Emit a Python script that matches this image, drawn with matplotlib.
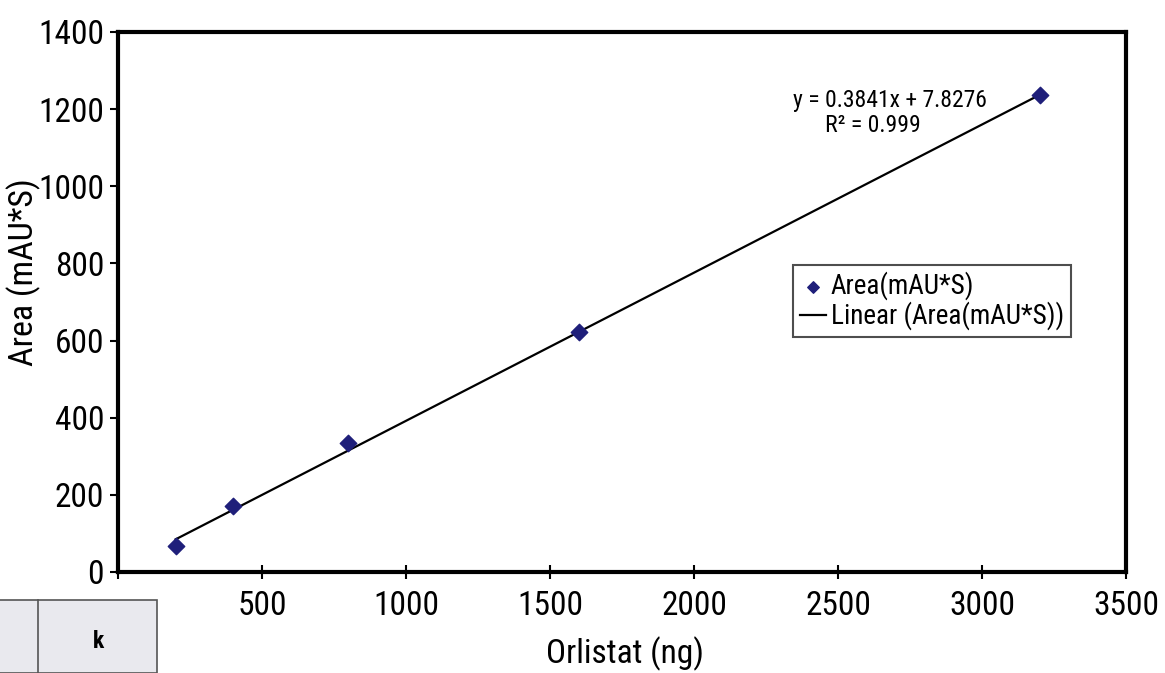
import matplotlib
matplotlib.use("Agg")
import matplotlib.pyplot as plt
import numpy as np
from matplotlib.patches import Rectangle
from matplotlib.ticker import FuncFormatter

# Data
orlistat_ng = [200, 400, 800, 1600, 3200]
area_mau_s = [67, 171, 334, 622, 1237]
fit_slope = 0.3841
fit_intercept = 7.8276
r_squared = 0.999
x_ticks = [0, 500, 1000, 1500, 2000, 2500, 3000, 3500]
y_ticks = [0, 200, 400, 600, 800, 1000, 1200, 1400]

plt.rcParams['font.family'] = ['Roboto Condensed', 'Liberation Sans Narrow', 'DejaVu Sans']
plt.rcParams['font.stretch'] = 'condensed'

fig = plt.figure(figsize=(11.65, 6.73), dpi=100)
W, H = 1165, 673
ax = fig.add_axes([118 / W, 1 - 572 / H, (1126 - 118) / W, (572 - 32) / H])

fit_x = np.array([min(orlistat_ng), max(orlistat_ng)])
fit_y = fit_slope * fit_x + fit_intercept
ax.plot(fit_x, fit_y, color='black', lw=1.6, label='Linear (Area(mAU*S))', zorder=2)
ax.scatter(orlistat_ng, area_mau_s, marker='D', s=70, color='#1f1f7a', zorder=3,
           label='Area(mAU*S)')

ax.set_xlim(0, 3500)
ax.set_ylim(0, 1400)
ax.set_xticks(x_ticks)
ax.set_yticks(y_ticks)
ax.xaxis.set_major_formatter(FuncFormatter(lambda v, p: '' if v == 0 else f'{v:g}'))
ax.tick_params(axis='x', direction='inout', length=10, width=1.5, labelsize=24, pad=8)
ax.tick_params(axis='y', direction='out', length=6, width=1.5, labelsize=24, pad=4)
for s in ax.spines.values():
    s.set_linewidth(3)
ax.set_xlabel('Orlistat (ng)', fontsize=24)
ax.set_ylabel('Area (mAU*S)', fontsize=24.5)
ax.yaxis.set_label_coords(-(118 - 24) / (1126 - 118), (572 - 272) / 540)
ax.xaxis.set_label_coords((625 - 118) / 1008, -(654 - 572) / 540)
ax.xaxis.label.set_va('center')
ax.yaxis.label.set_va('center')

fig.text(793 / W, 1 - 100 / H, f'y = {fit_slope}x + {fit_intercept}',
         fontsize=17, ha='left', va='center')
fig.text(873 / W, 1 - 126 / H, f'R² = {r_squared}',
         fontsize=17, ha='center', va='center')

handles, labels = ax.get_legend_handles_labels()
leg = ax.legend(handles[::-1], labels[::-1], loc='center left',
                bbox_to_anchor=((793 - 118) / (1126 - 118), (572 - 301) / 540),
                fontsize=19.5, frameon=True, fancybox=False, edgecolor='#222222',
                handlelength=0.95, handletextpad=0.2, borderpad=0.25, labelspacing=0.05,
                borderaxespad=0, scatterpoints=1, markerscale=0.7)
leg.get_frame().set_linewidth(1.5)

# cropped table fragment at bottom-left (drawn above the axes)
tbl = Rectangle((-0.01, 0), 157 / W + 0.01, (673 - 600) / H,
                transform=fig.transFigure, facecolor='#e9e9ee',
                edgecolor='#555555', lw=1.2, zorder=10)
fig.add_artist(tbl)
fig.add_artist(plt.Line2D([38 / W, 38 / W], [0, (673 - 600) / H],
                          transform=fig.transFigure, color='#555555', lw=1.2, zorder=11))
fig.text(98 / W, 1 - 642 / H, 'k', fontsize=17, fontweight='bold', ha='center',
         va='center', zorder=12)

fig.savefig('out.png', dpi=100)
